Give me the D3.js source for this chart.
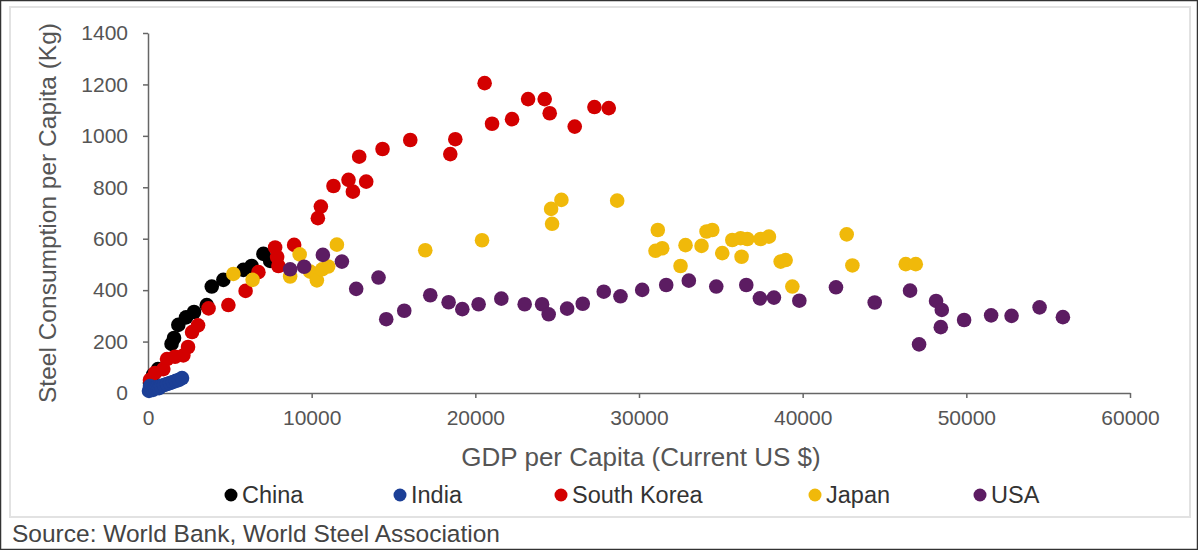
<!DOCTYPE html>
<html>
  <head>
    <meta charset="utf-8" />
    <title>Steel Consumption vs GDP per Capita</title>
    <script src="https://d3js.org/d3.v7.min.js"></script>
    <style>
      body { margin: 0; background: #fff; }
      svg { display: block; font-family: "Liberation Sans", Arial, sans-serif; }
      .axis path, .axis line { stroke: #666; stroke-width: 1.5; }
      .axis text { fill: #555; font-size: 21px; font-family: "Liberation Sans", Arial, sans-serif; }
    </style>
  </head>
  <body>
    <svg id="chart"></svg>
    <script>
      // [GDP per capita (US$), steel consumption per capita (kg)]
      var china = [[122, 39], [306, 70], [612, 93], [1437, 191], [1590, 214], [1853, 265],
        [2324, 294], [2813, 315], [3590, 342], [3896, 414], [4605, 440], [5829, 479],
        [6330, 494], [7052, 541], [7462, 514]];
      var india = [[61, 8], [122, 27], [183, 16], [306, 12], [428, 19], [550, 23], [673, 19],
        [795, 27], [979, 31], [1162, 35], [1345, 39], [1529, 43], [1712, 47], [1896, 51], [2079, 58]];
      var korea = [[122, 51], [428, 78], [936, 93], [1162, 132], [1651, 141], [2159, 146],
        [2446, 179], [2691, 237], [3058, 263], [3700, 329], [4911, 342], [5963, 397],
        [6746, 470], [7969, 494], [7890, 529], [7767, 566], [8929, 576], [10379, 680],
        [10562, 725], [11333, 805], [12250, 829], [12519, 783], [13333, 822], [12905, 919],
        [14330, 949], [16024, 984], [18470, 929], [18776, 987], [20568, 1205], [21021, 1047],
        [22244, 1065], [23223, 1143], [24238, 1143], [24544, 1088], [26073, 1036],
        [27277, 1112], [28152, 1108]];
      var japan = [[5217, 463], [6391, 440], [8685, 453], [9266, 539], [9908, 472], [10318, 438],
        [10642, 481], [11009, 492], [11541, 577], [16941, 555], [20409, 594], [24629, 716],
        [25259, 751], [24690, 658], [28666, 748], [31149, 634], [31008, 553], [31418, 563],
        [32843, 575], [32537, 494], [33821, 572], [34127, 628], [34476, 634], [35087, 544],
        [35699, 595], [36207, 602], [36617, 599], [36268, 530], [37430, 599], [37938, 608],
        [38653, 511], [38959, 517], [39369, 414], [42690, 617], [43038, 496], [46298, 501],
        [46910, 501]];
      var usa = [[8685, 481], [9541, 491], [10685, 537], [11847, 511], [12721, 405], [14085, 449],
        [14556, 287], [15657, 320], [17247, 380], [18367, 353], [19204, 326], [20201, 345],
        [21589, 367], [23015, 345], [24079, 345], [24482, 306], [25608, 328], [26562, 347],
        [27846, 394], [28868, 376], [30195, 401], [31663, 420], [33045, 437], [34721, 414],
        [36555, 420], [37387, 368], [38244, 371], [39797, 359], [42035, 411], [44402, 352],
        [46561, 398], [47112, 189], [48151, 358], [48500, 323], [48439, 256], [49864, 284],
        [51515, 302], [52763, 300], [54475, 333], [55900, 295]];

      var countries = ["China", "India", "South Korea", "Japan", "USA"];
      var seriesData = [china, india, korea, japan, usa];
      var colors = ["#000000", "#1c3f96", "#d30000", "#f0b90a", "#5c1c62"];
      var drawOrder = [0, 2, 3, 4, 1];
      var xTicks = [0, 10000, 20000, 30000, 40000, 50000, 60000];
      var yTicks = [0, 200, 400, 600, 800, 1000, 1200, 1400];

      var width = 1198, height = 550;
      var plot = {left: 148, right: 1130, top: 33, bottom: 393};

      var svg = d3.select("#chart").attr("width", width).attr("height", height);

      // frames
      svg.append("rect").attr("x", 0.5).attr("y", 0.5)
        .attr("width", width - 1).attr("height", height - 1)
        .attr("fill", "#fff").attr("stroke", "#333").attr("stroke-width", 1.5);
      svg.append("rect").attr("x", 10).attr("y", 7)
        .attr("width", 1180).attr("height", 510)
        .attr("fill", "none").attr("stroke", "#e2e2e2").attr("stroke-width", 2);

      var x = d3.scaleLinear().domain([0, 60000]).range([plot.left, plot.right]);
      var y = d3.scaleLinear().domain([0, 1400]).range([plot.bottom, plot.top]);

      svg.append("g").attr("class", "axis")
        .attr("transform", "translate(0," + plot.bottom + ")")
        .call(d3.axisBottom(x).tickValues(xTicks).tickFormat(d3.format("d"))
          .tickSize(5).tickSizeOuter(0).tickPadding(12));

      svg.append("g").attr("class", "axis")
        .attr("transform", "translate(" + plot.left + ",0)")
        .call(d3.axisLeft(y).tickValues(yTicks).tickFormat(d3.format("d"))
          .tickSize(5).tickSizeOuter(0).tickPadding(15));

      // axis titles
      svg.append("text")
        .attr("x", 641).attr("y", 466)
        .attr("text-anchor", "middle").attr("fill", "#555").attr("font-size", 26)
        .text("GDP per Capita (Current US $)");
      svg.append("text")
        .attr("transform", "translate(56," + (plot.top + plot.bottom) / 2 + ") rotate(-90)")
        .attr("text-anchor", "middle").attr("fill", "#555").attr("font-size", 24.5)
        .text("Steel Consumption per Capita (Kg)");

      // dots
      drawOrder.forEach(function(i) {
        svg.append("g").selectAll("circle")
          .data(seriesData[i])
          .enter().append("circle")
          .attr("cx", function(d) { return x(d[0]); })
          .attr("cy", function(d) { return y(d[1]); })
          .attr("r", 7.3)
          .attr("fill", colors[i]);
      });

      // legend
      var legendX = [231, 400, 561, 815, 980];
      var legend = svg.append("g").selectAll("g")
        .data(countries)
        .enter().append("g")
        .attr("transform", function(d, i) { return "translate(" + legendX[i] + ",495)"; });
      legend.append("circle").attr("r", 6.5).attr("fill", function(d, i) { return colors[i]; });
      legend.append("text")
        .attr("x", 11).attr("dy", "0.36em")
        .attr("fill", "#333").attr("font-size", 23.5)
        .text(function(d) { return d; });

      svg.append("text")
        .attr("x", 12).attr("y", 542)
        .attr("fill", "#444").attr("font-size", 24.5)
        .text("Source: World Bank, World Steel Association");
    </script>
  </body>
</html>
